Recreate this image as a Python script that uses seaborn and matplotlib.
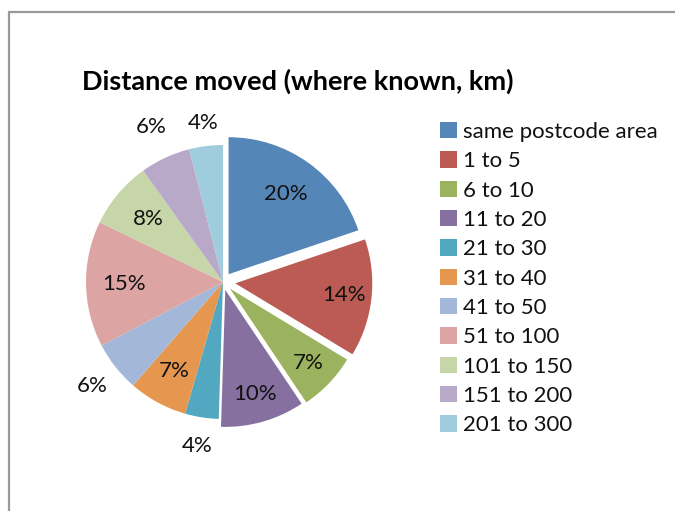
import matplotlib
matplotlib.use("Agg")
import matplotlib.pyplot as plt
import seaborn as sns
import numpy as np
from matplotlib.patches import Rectangle

# Distance moved, share of known moves (%)
categories = ["same postcode area", "1 to 5", "6 to 10", "11 to 20", "21 to 30",
              "31 to 40", "41 to 50", "51 to 100", "101 to 150", "151 to 200",
              "201 to 300"]
shares = [20, 14, 7, 10, 4, 7, 6, 15, 8, 6, 4]

sns.set_theme(style="white")
plt.rcParams["font.family"] = ["Lato", "DejaVu Sans"]

palette = sns.color_palette([
    "#5586B8", "#BC5B53", "#9BB35E", "#8570A0", "#52A8C0", "#E5974F",
    "#A3B7D9", "#DCA5A3", "#C6D6A9", "#B8A9C9", "#A0CDDD",
])

explode = [0.07, 0.09, 0.07, 0.06, 0, 0, 0, 0, 0, 0, 0]
label_dist = [0.72, 0.8, 0.79, 0.79, 1.21, 0.74, 1.22, 0.72, 0.71, 1.25, 1.17]

W, H = 675, 511
fig = plt.figure(figsize=(W / 100, H / 100), dpi=100)
fig.patch.set_facecolor("white")

R = 137.0
cx, cy = 223.0, 282.0
L = 1.35
ax = fig.add_axes([(cx - L * R) / W, (H - cy - L * R) / H, 2 * L * R / W, 2 * L * R / H])

wedges, _ = ax.pie(shares, colors=palette, startangle=90, counterclock=False,
                   explode=explode, radius=1.0,
                   wedgeprops=dict(linewidth=0))
ax.set_xlim(-L, L)
ax.set_ylim(-L, L)
ax.set_aspect("equal")
ax.axis("off")

for w, v, d, e in zip(wedges, shares, label_dist, explode):
    mid = np.deg2rad((w.theta1 + w.theta2) / 2)
    r = d + e
    ax.text(r * np.cos(mid), r * np.sin(mid), f"{v}%", ha="center", va="center",
            fontsize=16, color="#111111")

fig.text(82 / W, 1 - 81 / H, "Distance moved (where known, km)", ha="left",
         va="center", fontsize=19.5, fontweight="bold", color="#000000")

leg = fig.legend(wedges, categories, loc="upper left",
                 bbox_to_anchor=(440 / W, 1 - 122 / H), frameon=False,
                 fontsize=16, handlelength=0.75, handleheight=0.75,
                 handletextpad=0.3, labelspacing=0.42, borderaxespad=0,
                 borderpad=0)
for t in leg.get_texts():
    t.set_color("#111111")

fig.add_artist(Rectangle((9 / W, -0.1), 1.2, 1.1 - 12 / H, transform=fig.transFigure,
                         fill=False, edgecolor="#9a9a9a", linewidth=1.6))

fig.savefig("out.png", dpi=100)
